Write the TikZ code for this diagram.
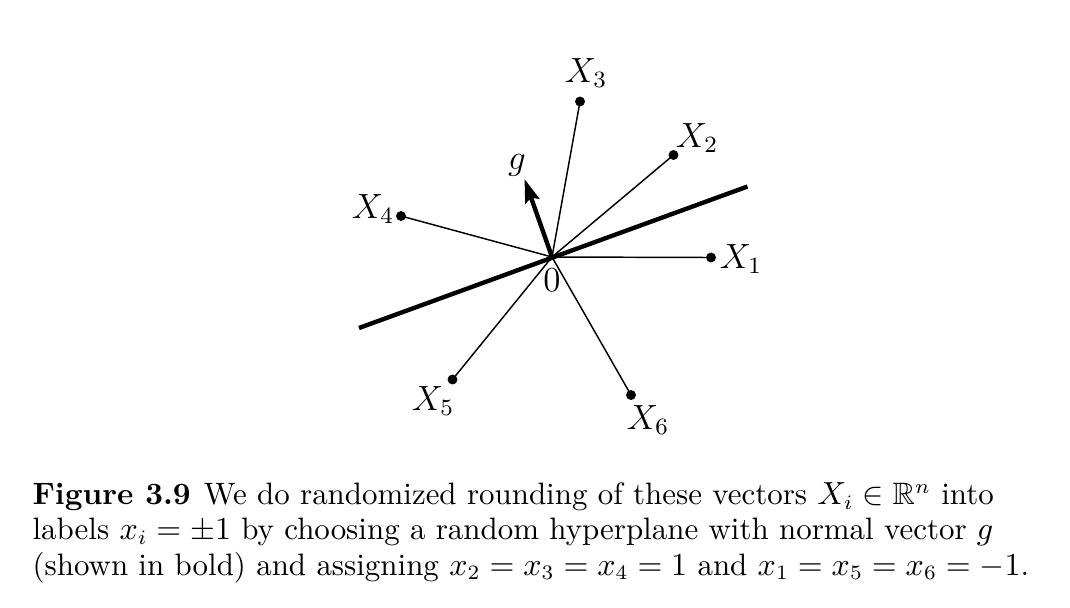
\documentclass[tikz,border=0pt]{standalone}
\usepackage{amsmath,amssymb}
\usetikzlibrary{arrows.meta}
\begin{document}
\begin{tikzpicture}[x=0.3425pt,y=-0.3425pt,
  vec/.style={line width=0.5pt},
  plane/.style={line width=1.5pt},
  normal/.style={line width=1.5pt,-{Stealth[length=8pt,width=5pt,inset=1.2pt]}},
  pt/.style={circle,fill,inner sep=0pt,minimum size=3.4pt},
  lab/.style={inner sep=0pt,font=\fontsize{11.5}{13}\selectfont}]
\useasboundingbox (0,0) rectangle (1070,607);
% origin and endpoints
\coordinate (O) at (552,257);
\node[pt] (x1) at (711,257.5) {};
\node[pt] (x2) at (673.5,155) {};
\node[pt] (x3) at (580,101.5) {};
\node[pt] (x4) at (401,216) {};
\node[pt] (x5) at (452.5,379.5) {};
\node[pt] (x6) at (631,395) {};
\coordinate (h1) at (359,328);
\coordinate (h2) at (747.5,186.5);
\coordinate (g) at (524.5,179);
% hyperplane
\draw[plane] (h1) -- (h2);
% vectors
\foreach \p in {x1,x2,x3,x4,x5,x6} \draw[vec] (O) -- (\p.center);
% normal vector
\draw[normal] (O) -- (g);
% labels
\node[lab] (l1) at (741,259) {$X_1$};
\node[lab] (l2) at (697,138) {$X_2$};
\node[lab] (l3) at (586,73) {$X_3$};
\node[lab] (l4) at (373,209) {$X_4$};
\node[lab] (l5) at (433,401) {$X_5$};
\node[lab] (l6) at (648,420) {$X_6$};
\node[lab] (lg) at (517,165) {$g$};
\node[lab] (l0) at (552,280) {$0$};
% caption
\node[anchor=base west,inner sep=0pt,align=left,font=\fontsize{10.6}{12}\selectfont] (cap) at (32,575)
 {\textbf{Figure 3.9}\hspace{4.5pt}We do randomized rounding of these vectors $X_i\in\mathbb{R}^n$ into\\
 labels $x_i=\pm1$ by choosing a random hyperplane with normal vector $g$\\
 (shown in bold) and assigning $x_2=x_3=x_4=1$ and $x_1=x_5=x_6=-1$.};
\end{tikzpicture}
\end{document}
